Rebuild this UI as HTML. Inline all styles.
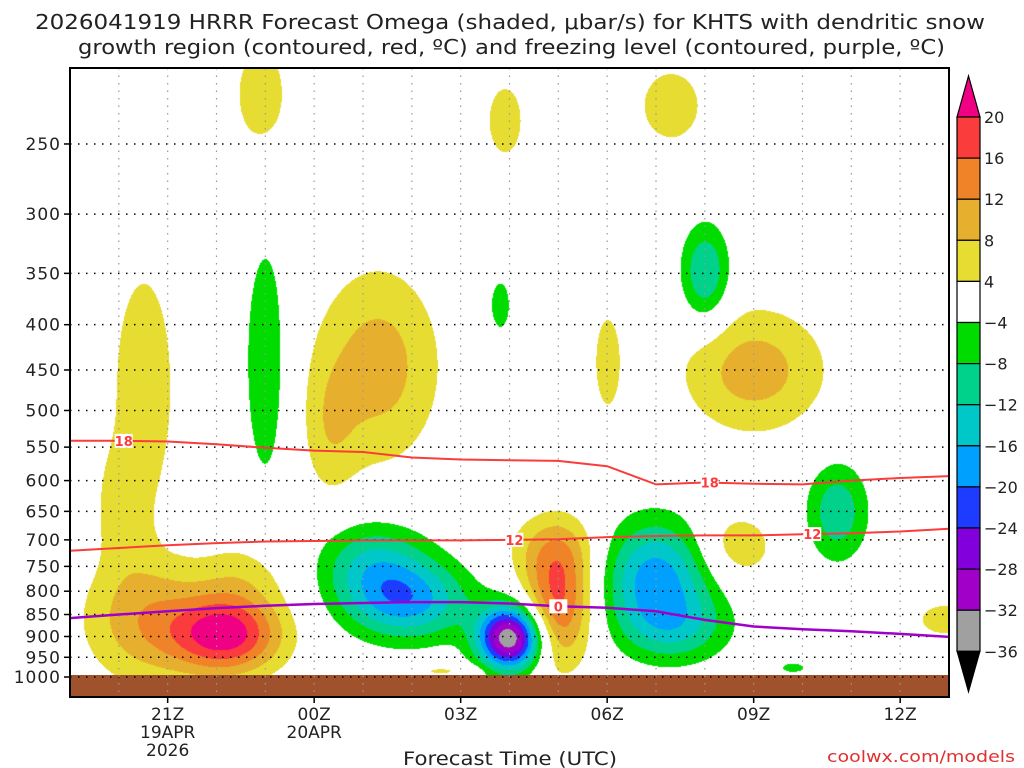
<!DOCTYPE html>
<html><head><meta charset="utf-8"><style>
body{margin:0;background:#fff;width:1024px;height:768px;overflow:hidden;font-family:"DejaVu Sans","Liberation Sans",sans-serif;}
#wrap{position:relative;width:1024px;height:768px;}
canvas{position:absolute;left:70px;top:68px;}
svg{position:absolute;left:0;top:0;}
text{font-family:"DejaVu Sans","Liberation Sans",sans-serif;}
</style></head><body><div id="wrap">
<canvas id="cv" width="879" height="629"></canvas>
<svg id="sv" width="1024" height="768"></svg>
</div>
<script>
// ---- data ----
const hours = [0,1,2,3,4,5,6,7,8,9,10,11,12,13,14,15,16,17,18]; // hours since 19Z 19APR
const xTickHours = [2,5,8,11,14,17];
const xTickLabels = [["21Z","19APR","2026"],["00Z","20APR"],["03Z"],["06Z"],["09Z"],["12Z"]];
const pLevels = [250,300,350,400,450,500,550,600,650,700,750,800,850,900,950,1000];
const line18 = [541,541,542,546,551,555,557,565,568,569,570,578,606,603,605,606,600,596,593];
const line12 = [720,715,710,706,703,702,701,701,701,700,699,695,693,692,692,690,688,685,680];
const line0  = [858,850,843,836,831,827,825,823,823,826,832,835,843,862,877,883,888,894,901];
// omega blobs: hour, pressure, sigma hours, sigma px, amplitude
const blobHour = [3.2,1.5,1.5,3.9,6.3,5.3,8.9,11.0,12.3,14.0,10.0,9.9,13.6,17.9,7.6,4.0,2.1,6.9,6.2,9.0,8.8,13.0,12.0,12.4,15.7,14.8,1.0,3.6];
const blobP    = [893,860,470,220,445,530,235,440,226,450,820,715,712,860,983,440,655,820,740,903,380,350,770,880,650,975,640,760];
const blobSt   = [0.8,0.9,0.55,0.45,0.9,0.4,0.35,0.25,0.6,1.05,0.5,0.7,0.6,0.5,0.6,0.35,0.15,0.9,0.8,0.45,0.2,0.35,0.8,0.8,0.45,0.3,0.35,0.7];
const blobSy   = [28,45,105,45,70,50,35,45,35,45,45,25,26,15,5,100,15,28,30,22,25,35,40,25,35,6,40,25];
const blobAmp  = [22,10,6.5,6.5,10,5,6,6,6,10,17,6,7.5,6,5,-7,-6,-17,-11,-36,-6,-12.3,-18,-9,-11,-5,5,5];
const levels = [-36,-32,-28,-24,-20,-16,-12,-8,-4,4,8,12,16,20];
const colors = ["#000000","#a0a0a0","#a000c8","#8200dc","#1e3cff","#00a0ff","#00c8c8","#00d28c","#00dc00","#ffffff","#e6dc32","#e6af2d","#f08228","#fa3c3c","#f00082"];
// ---- axes ----
const X0=70,X1=949,Y0=68,Y1=697;
const xs=h=>X0+h*(X1-X0)/18;
const ys=p=>677-384.5*Math.log(1000/p);
const NS="http://www.w3.org/2000/svg";
const sv=document.getElementById('sv');
function mk(t,a,txt){const e=document.createElementNS(NS,t);for(const k in a)e.setAttribute(k,a[k]);if(txt!==undefined)e.textContent=txt;sv.appendChild(e);return e;}
// shading
const cv=document.getElementById('cv'),ctx=cv.getContext('2d');
const img=ctx.createImageData(879,629);
const rgb=colors.map(c=>[parseInt(c.substr(1,2),16),parseInt(c.substr(3,2),16),parseInt(c.substr(5,2),16)]);
const by=blobP.map(ys);
for(let py=0;py<629;py++){for(let px=0;px<879;px++){
 const h=px*18/879,y=py+Y0;let v=0;
 for(let b=0;b<blobAmp.length;b++){const dt=(h-blobHour[b])/blobSt[b],dy=(y-by[b])/blobSy[b];const q=dt*dt+dy*dy;if(q<30)v+=blobAmp[b]*Math.exp(-q/2);}
 let i=0;while(i<levels.length&&v>=levels[i])i++;
 const c=rgb[i],o=(py*879+px)*4;img.data[o]=c[0];img.data[o+1]=c[1];img.data[o+2]=c[2];img.data[o+3]=255;}}
ctx.putImageData(img,0,0);
// ground
let g=mk('rect',{x:X0,y:675,width:X1-X0,height:Y1-675,fill:'#a0522d'});


// grid
pLevels.forEach(p=>{const y=ys(p);if(y<Y0)return;
 let l=mk('line',{x1:X0,x2:X1,y1:y,y2:y,stroke:'#000','stroke-width':1.5,'stroke-dasharray':'1.5 6.5'});
 
 
 mk('line',{x1:X0-6,x2:X0,y1:y,y2:y,stroke:'#000','stroke-width':1.5});
 let t=mk('text',{x:61,y:y+6,'text-anchor':'end','font-size':17,fill:'#222','letter-spacing':'1'},String(p));
 
 
});
for(let h=1;h<18;h++){let l=mk('line',{x1:xs(h),x2:xs(h),y1:Y0,y2:Y1,stroke:'#999','stroke-width':1.2,'stroke-dasharray':'1.5 6'});
 
 }
xTickHours.forEach((h,i)=>{const x=xs(h);mk('line',{x1:x,x2:x,y1:Y1,y2:Y1+6,stroke:'#000','stroke-width':1.5});
 xTickLabels[i].forEach((s,j)=>{let t=mk('text',{x:x,y:720+j*18,'text-anchor':'middle','font-size':17,fill:'#222'},s);
 
 });});
// contour lines
function drawLine(arr,col,name,w){const d=arr.map((p,i)=>(i?'L':'M')+xs(hours[i]).toFixed(1)+','+ys(p).toFixed(1)).join('');
 let e=mk('path',{d:d,fill:'none',stroke:col,'stroke-width':w});
 
 }
drawLine(line18,'#fa3c3c','contour-minus18',2);
drawLine(line12,'#fa3c3c','contour-minus12',2);
drawLine(line0,'#a000c8','freezing-level',2.5);
function lab(h,arr,txt,col){const i=Math.floor(h),f=h-i;const p=arr[i]*(1-f)+arr[Math.min(i+1,18)]*f;const x=xs(h),y=ys(p);
 mk('rect',{x:x-9,y:y-7,width:18,height:14,fill:'#fff'});
 let t=mk('text',{x:x,y:y+5,'text-anchor':'middle','font-size':13,'font-weight':'bold',fill:col},txt);
 
 }
lab(1.1,line18,'18','#fa3c3c');lab(13.1,line18,'18','#fa3c3c');
lab(9.1,line12,'12','#fa3c3c');lab(15.2,line12,'12','#fa3c3c');lab(10.0,line0,'0','#fa3c3c');
// frame
let fr=mk('rect',{x:X0,y:Y0,width:X1-X0,height:Y1-Y0,fill:'none',stroke:'#000','stroke-width':2});


// colorbar
const cbX=957,cbW=23,cbTop=117,cbStep=41.1;
mk('path',{d:`M${cbX},${cbTop}L${cbX+cbW/2},76L${cbX+cbW},${cbTop}Z`,fill:colors[14],stroke:'#000','stroke-width':1.2});
for(let k=0;k<13;k++){const ci=13-k;let r=mk('rect',{x:cbX,y:cbTop+k*cbStep,width:cbW,height:cbStep,fill:colors[ci],stroke:'#000','stroke-width':1.2});
 
 }
const cbBot=cbTop+13*cbStep;
mk('path',{d:`M${cbX},${cbBot}L${cbX+cbW/2},692L${cbX+cbW},${cbBot}Z`,fill:'#000',stroke:'#000'});
for(let k=0;k<14;k++){const v=levels[13-k];let t=mk('text',{x:984,y:cbTop+k*cbStep+6,'font-size':16,fill:'#222'},v<0?'\u2212'+(-v):String(v));
 
 }
// titles
let t1=mk('text',{x:35,y:29,'font-size':20,fill:'#222',textLength:950,lengthAdjust:'spacingAndGlyphs'},'2026041919 HRRR Forecast Omega (shaded, \u03bcbar/s) for KHTS with dendritic snow');


let t2=mk('text',{x:78,y:54,'font-size':20,fill:'#222',textLength:867,lengthAdjust:'spacingAndGlyphs'},'growth region (contoured, red, \u00baC) and freezing level (contoured, purple, \u00baC)');


let xt=mk('text',{x:403,y:765,'font-size':19,fill:'#222',textLength:214,lengthAdjust:'spacingAndGlyphs'},'Forecast Time (UTC)');


let cr=mk('text',{x:827,y:762,'font-size':16,fill:'#e03030',textLength:188,lengthAdjust:'spacingAndGlyphs'},'coolwx.com/models');


</script></body></html>
